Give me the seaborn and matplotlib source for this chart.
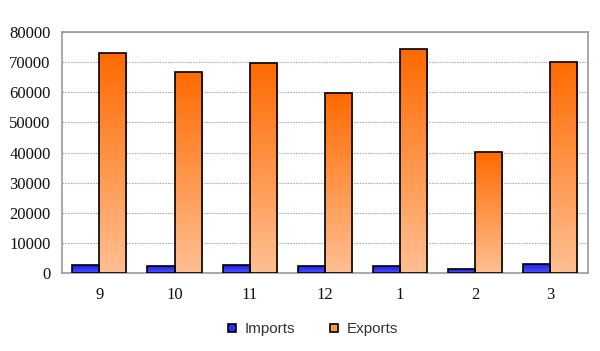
import numpy as np
import pandas as pd
import matplotlib
matplotlib.use("Agg")
import matplotlib.pyplot as plt
import seaborn as sns
from matplotlib.colors import LinearSegmentedColormap
from matplotlib.lines import Line2D

months = ["9", "10", "11", "12", "1", "2", "3"]
imports = [2600, 2500, 2700, 2400, 2300, 1500, 3000]
exports = [73000, 66800, 69700, 59800, 74300, 40300, 70100]
series = ["Imports", "Exports"]

df = pd.DataFrame({
    "month": months * 2,
    "value": imports + exports,
    "series": ["Imports"] * len(months) + ["Exports"] * len(months),
})

sns.set_style("white")
fig = plt.figure(figsize=(6.0, 3.51), dpi=100)
ax = fig.add_axes([0.103, 0.222, 0.877, 0.687])

sns.barplot(data=df, x="month", y="value", hue="series", order=months,
            hue_order=series, palette=["#2b2bff", "#ff8a3a"], width=0.72,
            edgecolor="black", linewidth=1.2, legend=False, ax=ax, zorder=3)

cmaps = {
    "Imports": LinearSegmentedColormap.from_list("imp", ["#5050ff", "#1a1aee"]),
    "Exports": LinearSegmentedColormap.from_list("exp", ["#ffbf92", "#ff6a00"]),
}
grad = np.linspace(0, 1, 256).reshape(-1, 1)
n = len(months)
for i, patch in enumerate(ax.patches[:2 * n]):
    s = series[i // n]
    x0, y0 = patch.get_x(), patch.get_y()
    w, h = patch.get_width(), patch.get_height()
    im = ax.imshow(grad, cmap=cmaps[s], aspect="auto", origin="lower",
                   extent=[x0, x0 + w, y0, y0 + h], zorder=3.5)
    im.set_clip_path(patch)
    patch.set_facecolor("none")
    patch.set_zorder(4)

ax.set_xlim(-0.5, n - 0.5)
ax.set_ylim(0, 80000)
ax.set_yticks(np.arange(0, 80001, 10000))
ax.yaxis.grid(True, linestyle=(0, (1.5, 1.0)), color="#b0b0b0", linewidth=0.8, zorder=0)
ax.set_xlabel("")
ax.set_ylabel("")
for sp in ax.spines.values():
    sp.set_color("#999999")
    sp.set_linewidth(1.2)
    sp.set_visible(True)

ax.set_xticks(np.arange(n) + 0.5, minor=True)
ax.tick_params(axis="x", which="minor", length=4, direction="in", color="#777777")
ax.tick_params(axis="x", which="major", length=0, pad=10)
ax.tick_params(axis="y", length=3, direction="in", color="#999999", pad=8)

for lab in ax.get_xticklabels() + ax.get_yticklabels():
    lab.set_fontfamily("Liberation Serif")
    lab.set_fontsize(12)
    lab.set_color("#111111")

handles = [Line2D([], [], marker="s", linestyle="", markersize=6,
                  markerfacecolor=c, markeredgecolor="black", markeredgewidth=1.2)
           for c in ["#2b2bff", "#ff9a40"]]
fig.legend(handles, series, loc="center", bbox_to_anchor=(0.52, 0.062), ncol=2,
           frameon=False, handlelength=0.8, handletextpad=0.4, columnspacing=2.2,
           prop={"family": "Liberation Sans", "size": 11}, labelcolor="#333333")

fig.savefig("out.png", dpi=100, facecolor="white")
